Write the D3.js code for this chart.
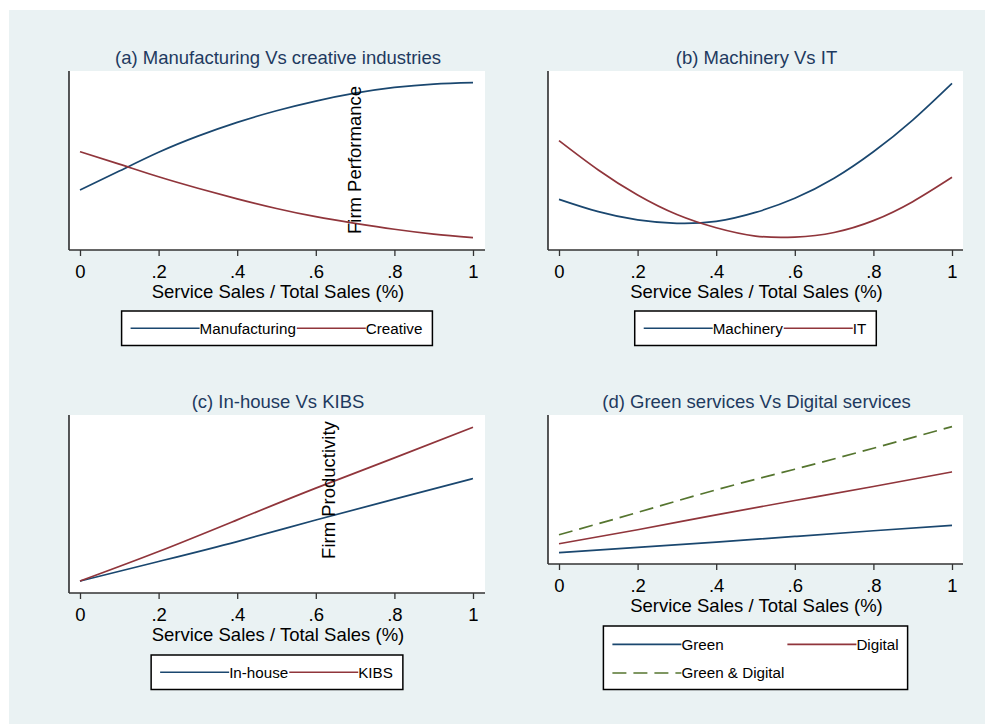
<!DOCTYPE html>
<html>
<head>
<meta charset="utf-8">
<script src="https://cdn.jsdelivr.net/npm/d3@7"></script>
<style>
  html, body { margin: 0; padding: 0; background: #ffffff; }
  svg { display: block; }
  text { font-family: "Liberation Sans", Arial, Helvetica, sans-serif; }
</style>
</head>
<body>
<svg id="chart" width="985" height="724"></svg>
<script>
// ---------- DATA ----------
const xTicks = [0, 0.2, 0.4, 0.6, 0.8, 1];
const tickLabels = ["0", ".2", ".4", ".6", ".8", "1"];
const xTitle = "Service Sales / Total Sales (%)";

const shareFine = [0, 0.1, 0.2, 0.3, 0.4, 0.5, 0.6, 0.7, 0.8, 0.9, 1];
const shareCoarse = [0, 0.2, 0.4, 0.6, 0.8, 1];

// (a) Manufacturing vs creative (relative firm performance, 0-100)
const manufacturing = [33.5, 44.1, 54.6, 63.6, 71.3, 77.8, 83.2, 87.6, 90.8, 92.7, 93.5];
const creative      = [54.9, 48.0, 40.9, 34.5, 28.6, 23.2, 18.6, 14.9, 11.6, 8.9, 6.9];

// (b) Machinery vs IT
const machinery = [28.3, 21.4, 16.8, 14.9, 16.0, 21.0, 28.9, 40.1, 54.9, 72.6, 93.1];
const itSeries  = [61.1, 44.7, 30.7, 19.8, 12.4, 7.8, 7.2, 9.8, 16.4, 27.0, 40.6];

// (c) In-house vs KIBS (relative firm productivity)
const inHouse = [6.7, 17.7, 28.9, 41.0, 52.7, 64.3];
const kibs    = [6.7, 23.3, 41.1, 58.9, 75.9, 93.1];

// (d) Green vs Digital services
const green        = [7.6, 11.1, 14.7, 18.5, 22.3, 25.9];
const digital      = [13.6, 23.0, 33.0, 42.6, 52.0, 61.8];
const greenDigital = [19.6, 34.6, 49.8, 63.6, 77.7, 92.2];

const panelTitles = [
  "(a) Manufacturing Vs creative industries",
  "(b) Machinery Vs IT",
  "(c) In-house Vs KIBS",
  "(d) Green services Vs Digital services"
];
const yTitles = ["Firm Performance", "Firm Productivity"];

// ---------- STYLE ----------
const NAVY = "#1a476f", MAROON = "#90353b", FOREST = "#55752f";
const BG = "#eaf2f3";
const TITLE_COLOR = "#1e3a5f";
const FS = 18.5, LFS = 15.2;

const svg = d3.select("#chart");
svg.append("rect").attr("x", 9).attr("y", 10).attr("width", 976).attr("height", 714).attr("fill", BG);

const panels = [
  { title: panelTitles[0], box: {l: 69, r: 485, t: 71, b: 250}, xr: [80, 473],
    xs: shareFine,
    series: [{name: "Manufacturing", v: manufacturing, c: NAVY}, {name: "Creative", v: creative, c: MAROON}],
    legendRows: [["Manufacturing", "Creative"]], legendTop: 311 },
  { title: panelTitles[1], box: {l: 548, r: 963, t: 71, b: 250}, xr: [559, 952],
    xs: shareFine,
    series: [{name: "Machinery", v: machinery, c: NAVY}, {name: "IT", v: itSeries, c: MAROON}],
    legendRows: [["Machinery", "IT"]], legendTop: 311 },
  { title: panelTitles[2], box: {l: 69, r: 485, t: 415, b: 593}, xr: [80, 473],
    xs: shareCoarse,
    series: [{name: "In-house", v: inHouse, c: NAVY}, {name: "KIBS", v: kibs, c: MAROON}],
    legendRows: [["In-house", "KIBS"]], legendTop: 655 },
  { title: panelTitles[3], box: {l: 548, r: 963, t: 415, b: 564}, xr: [559, 952],
    xs: shareCoarse,
    series: [{name: "Green", v: green, c: NAVY}, {name: "Digital", v: digital, c: MAROON},
             {name: "Green & Digital", v: greenDigital, c: FOREST, dash: "14,7"}],
    legendRows: [["Green", "Digital"], ["Green & Digital"]], legendTop: 626, grid: true }
];

panels.forEach(p => {
  const g = svg.append("g");
  const B = p.box;
  const x = d3.scaleLinear().domain([0, 1]).range(p.xr);
  const y = d3.scaleLinear().domain([0, 100]).range([B.b, B.t]);

  // plot region
  g.append("rect").attr("x", B.l).attr("y", B.t).attr("width", B.r - B.l).attr("height", B.b - B.t).attr("fill", "#ffffff");

  // title
  g.append("text").attr("x", (B.l + B.r) / 2 + 1).attr("y", B.t - 7.5)
    .attr("text-anchor", "middle").attr("font-size", FS).attr("fill", TITLE_COLOR).text(p.title);

  // lines
  const line = d3.line().x((d, i) => x(p.xs[i])).y(d => y(d)).curve(d3.curveNatural);
  p.series.forEach(s => {
    g.append("path").datum(s.v).attr("d", line).attr("fill", "none")
      .attr("stroke", s.c).attr("stroke-width", 1.7)
      .attr("stroke-dasharray", s.dash || null);
  });

  // left axis line
  g.append("line").attr("x1", B.l).attr("x2", B.l).attr("y1", B.t).attr("y2", B.b)
    .attr("stroke", "#111").attr("stroke-width", 1.4);

  // bottom axis
  const ax = g.append("g").attr("transform", `translate(0,${B.b})`)
    .call(d3.axisBottom(x).tickValues(xTicks).tickSize(6).tickPadding(0)
      .tickFormat((d, i) => tickLabels[i]));
  ax.select(".domain").remove();
  ax.append("line").attr("x1", B.l).attr("x2", B.r).attr("stroke", "#333").attr("stroke-width", 1.4);
  ax.selectAll(".tick line").attr("stroke", "#333").attr("stroke-width", 1.3);
  ax.selectAll(".tick text").attr("y", 27.8).attr("dy", null).attr("font-size", FS)
    .attr("font-family", '"Liberation Sans", Arial, sans-serif').attr("fill", "#000");

  g.append("text").attr("x", (B.l + B.r) / 2 + 1).attr("y", B.b + 48.3)
    .attr("text-anchor", "middle").attr("font-size", FS).attr("fill", "#000").text(xTitle);

  // legend
  const lg = g.append("g");
  const lineLen = 69, padL = 9, padR = 9, rowH = 28.7;
  const byName = {};
  p.series.forEach(s => byName[s.name] = s);
  const nCols = d3.max(p.legendRows, r => r.length);
  const measure = t => {
    const tt = lg.append("text").attr("font-size", LFS).text(t);
    const w = tt.node().getComputedTextLength(); tt.remove(); return w;
  };
  let colW = [];
  if (p.grid) {
    for (let c = 0; c < nCols; c++) {
      colW[c] = d3.max(p.legendRows, r => r[c] ? lineLen + measure(r[c]) : 0) + (c < nCols - 1 ? 3 : 0);
    }
  } else {
    const r = p.legendRows[0];
    colW = r.map(n => lineLen + measure(n) + 1);
  }
  const totalW = padL + d3.sum(colW) + padR;
  const boxH = p.legendRows.length === 1 ? 34.5 : 63.5;
  const lx = (B.l + B.r) / 2 - totalW / 2;
  lg.append("rect").attr("x", lx).attr("y", p.legendTop).attr("width", totalW).attr("height", boxH)
    .attr("fill", "#fff").attr("stroke", "#000").attr("stroke-width", 1.5);
  p.legendRows.forEach((row, ri) => {
    const cy = p.legendTop + (p.legendRows.length === 1 ? boxH / 2 : 18.3 + ri * rowH);
    let cx = lx + padL;
    row.forEach((name, ci) => {
      const s = byName[name];
      lg.append("line").attr("x1", cx).attr("x2", cx + lineLen).attr("y1", cy).attr("y2", cy)
        .attr("stroke", s.c).attr("stroke-width", 1.7).attr("stroke-dasharray", s.dash || null);
      lg.append("text").attr("x", cx + lineLen).attr("y", cy + 5.3).attr("font-size", LFS).attr("fill", "#000").text(name);
      cx += colW[ci];
    });
  });
});

// shared y-axis titles, drawn once per row
const yTitlePos = [{x: 360.5, y: 160}, {x: 334.5, y: 490}];
yTitles.forEach((t, i) => {
  svg.append("text").attr("transform", `translate(${yTitlePos[i].x},${yTitlePos[i].y}) rotate(-90)`)
    .attr("text-anchor", "middle").attr("font-size", FS).attr("fill", "#000").text(t);
});
</script>
</body>
</html>
